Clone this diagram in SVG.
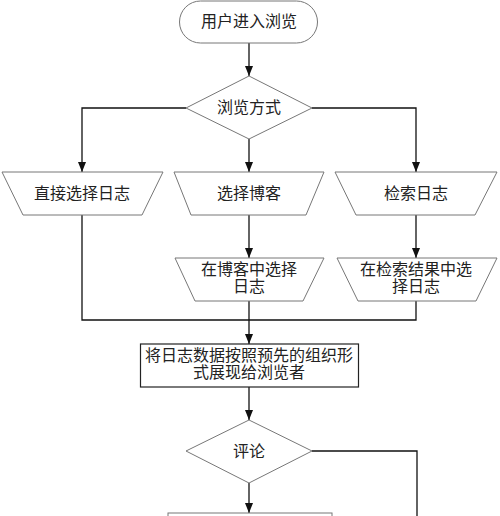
<svg xmlns="http://www.w3.org/2000/svg" width="500" height="516" viewBox="0 0 500 516">
<style>
.s{fill:#fff;stroke:#777;stroke-width:1}
.c{fill:none;stroke:#111;stroke-width:1.3}
text{font-family:"Noto Sans CJK SC","Liberation Serif",sans-serif;font-size:16px;fill:#222;text-anchor:middle}
</style>
<defs>
<marker id="a" markerUnits="userSpaceOnUse" markerWidth="10" markerHeight="10" viewBox="0 0 10 10" refX="10" refY="5" orient="auto">
<path d="M0,1 L10,5 L0,9 Z" fill="#111"/>
</marker>
</defs>
<rect width="500" height="516" fill="#fff"/>
<g id="connectors">
<path class="c" d="M249,43 V76" marker-end="url(#a)"/>
<path class="c" d="M186,108 H82 V172" marker-end="url(#a)"/>
<path class="c" d="M312,108 H416 V172" marker-end="url(#a)"/>
<path class="c" d="M249,139 V172" marker-end="url(#a)"/>
<path class="c" d="M249,215 V258" marker-end="url(#a)"/>
<path class="c" d="M416,215 V258" marker-end="url(#a)"/>
<path class="c" d="M82,215 V320 H416 V301"/>
<path class="c" d="M249,301 V344" marker-end="url(#a)"/>
<path class="c" d="M249,387 V420" marker-end="url(#a)"/>
<path class="c" d="M312,451 H417 V516"/>
<path class="c" d="M249,483 V513" marker-end="url(#a)"/>
</g>
<g id="start">
<rect class="s" x="179.5" y="1" width="138" height="42" rx="21" ry="21"/>
<text x="249" y="27">用户进入浏览</text>
</g>
<g id="mode">
<path class="s" d="M249,76 L312,108 L249,139 L186,108 Z"/>
<text x="249" y="113">浏览方式</text>
</g>
<g id="direct">
<path class="s" d="M2,172 H163 L142,215 H23 Z"/>
<text x="82" y="199">直接选择日志</text>
</g>
<g id="blog">
<path class="s" d="M174,172 H324 L306,215 H191 Z"/>
<text x="249" y="199">选择博客</text>
</g>
<g id="search">
<path class="s" d="M335,172 H497 L475,215 H356 Z"/>
<text x="416" y="199">检索日志</text>
</g>
<g id="inblog">
<path class="s" d="M175,258 H324 L303,301 H195 Z"/>
<text x="249" y="275">在博客中选择</text>
<text x="249" y="292">日志</text>
</g>
<g id="inresult">
<path class="s" d="M337,258 H497 L476,301 H358 Z"/>
<text x="416" y="275">在检索结果中选</text>
<text x="416" y="292">择日志</text>
</g>
<g id="show">
<rect x="140.5" y="344" width="218" height="43" fill="#fff" stroke="#222" stroke-width="1.2"/>
<text x="249" y="361">将日志数据按照预先的组织形</text>
<text x="249" y="378">式展现给浏览者</text>
</g>
<g id="comment">
<path class="s" d="M249,420 L312,451 L249,483 L186,451 Z"/>
<text x="249" y="457">评论</text>
</g>
<g id="next">
<rect class="s" x="168" y="513" width="164" height="12"/>
</g>
</svg>
